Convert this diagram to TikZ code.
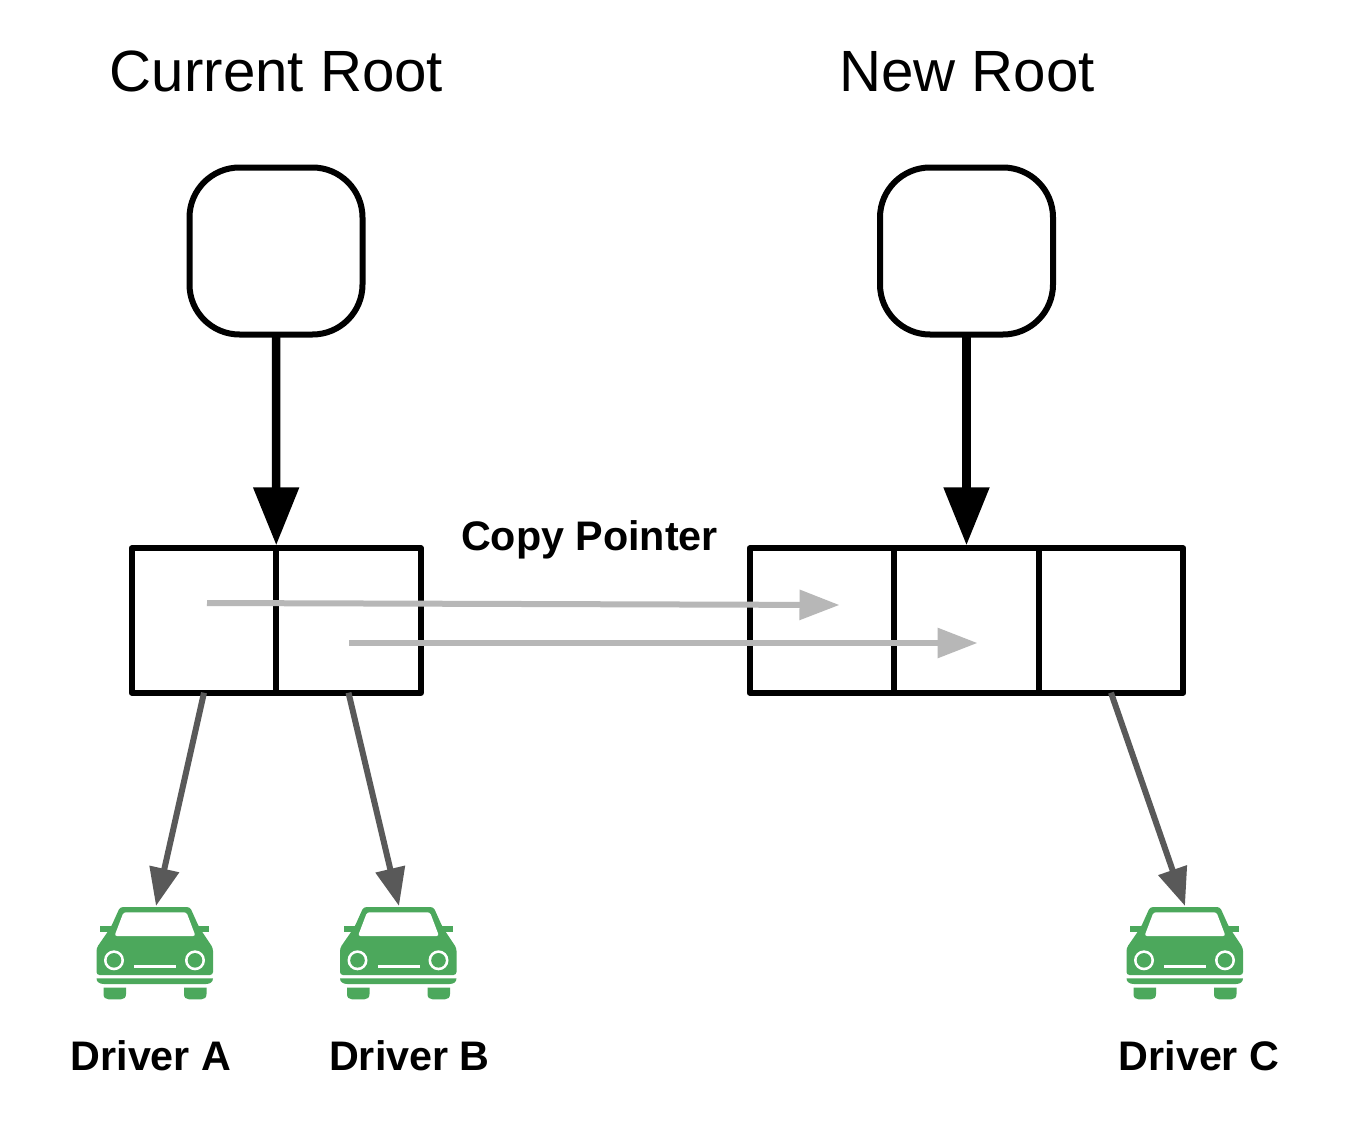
\documentclass[tikz,border=0pt]{standalone}
\usepackage{fontspec}
\setmainfont{Liberation Sans}
\usetikzlibrary{arrows.meta}
\definecolor{cargreen}{HTML}{4CA85C}
\definecolor{copygrey}{HTML}{B7B7B7}
\definecolor{drvgrey}{HTML}{595959}
\tikzset{
  x=1pt,y=-1pt,
  rootbox/.style={draw=black,line width=6pt,rounded corners=50pt,minimum width=173pt,minimum height=167pt,inner sep=0pt,outer sep=0pt},
  cellbox/.style={draw=black,line width=6pt,line join=round,minimum width=#1,minimum height=144.4pt,inner sep=0pt,outer sep=0pt},
  rootarrow/.style={draw=black,line width=8.5pt,shorten >=3pt,-{Triangle[length=58pt,width=44pt]}},
  copyarrow/.style={draw=copygrey,line width=6pt,-{Triangle[length=40pt,width=29pt]}},
  drvarrow/.style={draw=drvgrey,line width=6pt,-{Triangle[length=38pt,width=29pt]}},
  title/.style={font=\fontsize{58.2}{58}\selectfont,inner sep=0pt,anchor=base},
  label/.style={font=\fontsize{41.3}{41}\selectfont\bfseries,inner sep=0pt,anchor=base},
  pics/car/.style={code={
    \fill[cargreen,rounded corners=3pt] (24,0) -- (94,0) -- (103,20) -- (117,41) -- (117,68) -- (0.5,68) -- (0.5,41) -- (15,20) -- cycle;
    \fill[cargreen] (4,19) rectangle (17,25);
    \fill[cargreen] (102,19) rectangle (113,25);
    \fill[cargreen] (0.5,71.3) -- (117,71.3) .. controls (117,75) and (114,77) .. (110,77) -- (8,77) .. controls (3.5,77) and (0.5,75) .. (0.5,71.3) -- cycle;
    \fill[cargreen] (7.5,80.7) -- (30,80.7) -- (30,87) .. controls (30,90.5) and (28,92.3) .. (25,92.3) -- (12.5,92.3) .. controls (9.5,92.3) and (7.5,90.5) .. (7.5,87) -- cycle;
    \fill[cargreen] (88,80.7) -- (110.5,80.7) -- (110.5,87) .. controls (110.5,90.5) and (108.5,92.3) .. (105.5,92.3) -- (93,92.3) .. controls (90,92.3) and (88,90.5) .. (88,87) -- cycle;
    \fill[white,rounded corners=2.5pt] (27.5,5.3) -- (90.5,5.3) -- (99.5,29) -- (18.5,29) -- cycle;
    \fill[white] (18,53.3) circle[radius=10];
    \fill[white] (99,53.3) circle[radius=10];
    \fill[cargreen] (18,53.3) circle[radius=7.3];
    \fill[cargreen] (99,53.3) circle[radius=7.3];
    \fill[white] (38,57.5) rectangle (80,60.8);
  }}
}
\begin{document}
\begin{tikzpicture}
\useasboundingbox (0,0) rectangle (1349,1121);
\fill[white] (0,0) rectangle (1349,1121);

\node[title] (curtitle) at (276.5,92) {Current Root};
\node[title] (newtitle) at (967,92) {New Root};

\node[rootbox] (rootA) at (276,251) {};
\node[rootbox] (rootB) at (966.5,251) {};

\node[cellbox=144.5pt] (a1) at (204,620.5) {};
\node[cellbox=144.5pt] (a2) at (348.5,620.5) {};
\node[cellbox=144.5pt] (b1) at (822,620.5) {};
\node[cellbox=144.5pt] (b2) at (966.5,620.5) {};
\node[cellbox=144.5pt] (b3) at (1111,620.5) {};

\draw[rootarrow] (rootA.south) -- (a2.north west);
\draw[rootarrow] (rootB.south) -- (b2.north);

\coordinate (copy1s) at (207,603);
\coordinate (copy1e) at (839.5,605);
\coordinate (copy2s) at (349,643);
\coordinate (copy2e) at (977.5,643);
\draw[copyarrow] (copy1s) -- (copy1e);
\draw[copyarrow] (copy2s) -- (copy2e);

\node[label] (copylbl) at (589.5,550) {Copy Pointer};

\pic at (96,907) {car};
\pic at (339.5,907) {car};
\pic at (1126,907) {car};
\coordinate (carA) at (156,906);
\coordinate (carB) at (399,906);
\coordinate (carC) at (1185,906);

\draw[drvarrow] (a1.south) -- (carA);
\draw[drvarrow] (a2.south) -- (carB);
\draw[drvarrow] (b3.south) -- (carC);

\node[label] (drvA) at (151,1070) {Driver A};
\node[label] (drvB) at (409.5,1070) {Driver B};
\node[label] (drvC) at (1199,1070) {Driver C};
\end{tikzpicture}
\end{document}
